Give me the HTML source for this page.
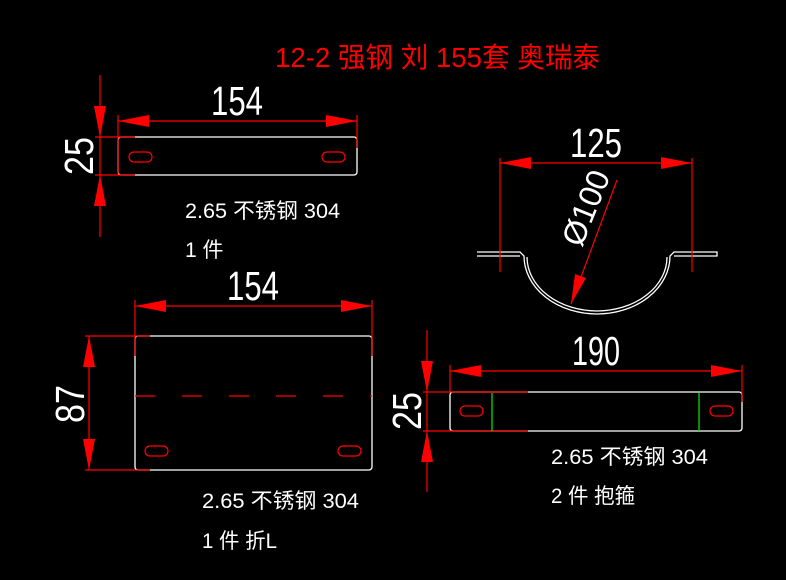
<!DOCTYPE html>
<html><head><meta charset="utf-8"><style>
html,body{margin:0;padding:0;background:#000;}
svg{display:block}
text{font-family:"Liberation Sans","Noto Sans CJK SC",sans-serif;}
</style></head><body>
<svg width="786" height="580" viewBox="0 0 786 580" xmlns="http://www.w3.org/2000/svg">
<rect width="786" height="580" fill="#000"/>
<text x="275" y="67" fill="#ff0000" font-size="28" textLength="325" lengthAdjust="spacingAndGlyphs">12-2 强钢 刘 155套 奥瑞泰</text>

<g stroke="#fff" stroke-width="1.3" fill="none">
<rect x="118" y="137" width="239" height="38" rx="3"/>
<rect x="135" y="336" width="237" height="134" rx="3"/>
<rect x="450" y="392" width="292" height="39" rx="3"/>
<path d="M477 252 H520 L524 256 A73 58 0 0 0 670 256 L674 252 H717 V256 H674"/>
<path d="M477 256 H520"/>
<path d="M527 257 A70 54 0 0 0 667 257"/>
</g>
<g stroke="#ff0000" stroke-width="1.2" fill="none">
<line x1="118" y1="121" x2="357" y2="121"/>
<line x1="118" y1="115" x2="118" y2="175"/>
<line x1="357" y1="115" x2="357" y2="148"/>
<line x1="100" y1="75" x2="100" y2="237"/>
<line x1="95" y1="137" x2="135" y2="137"/>
<line x1="95" y1="175" x2="135" y2="175"/>
<rect x="129" y="152" width="23" height="10" rx="5"/>
<rect x="322" y="152" width="23" height="10" rx="5"/>
<line x1="135" y1="306" x2="372" y2="306"/>
<line x1="135" y1="300" x2="135" y2="356"/>
<line x1="372" y1="300" x2="372" y2="356"/>
<line x1="89" y1="336" x2="89" y2="470"/>
<line x1="85" y1="336" x2="150" y2="336"/>
<line x1="85" y1="470" x2="150" y2="470"/>
<line x1="135" y1="396" x2="372" y2="396" stroke-dasharray="20,27"/>
<rect x="145" y="446" width="23" height="10" rx="5"/>
<rect x="338" y="446" width="23" height="10" rx="5"/>
<line x1="450" y1="371" x2="742" y2="371"/>
<line x1="450" y1="365" x2="450" y2="392"/>
<line x1="742" y1="365" x2="742" y2="402"/>
<line x1="427" y1="330" x2="427" y2="492"/>
<line x1="423" y1="392" x2="528" y2="392"/>
<line x1="423" y1="431" x2="528" y2="431"/>
<rect x="460" y="406" width="23" height="10" rx="5"/>
<rect x="710" y="406" width="23" height="10" rx="5"/>
<line x1="500" y1="163" x2="692" y2="163"/>
<line x1="500" y1="158" x2="500" y2="272"/>
<line x1="692" y1="158" x2="692" y2="272"/>
<line x1="617" y1="180" x2="571" y2="304"/>
</g>
<g stroke="#00dd00" stroke-width="1.3">
<line x1="492" y1="393" x2="492" y2="431"/>
<line x1="699" y1="393" x2="699" y2="431"/>
</g>
<g fill="#ff0000">
<polygon points="118,121 149,115 149,127"/><polygon points="357,121 326,115 326,127"/>
<polygon points="135,306 166,300 166,312"/><polygon points="372,306 341,300 341,312"/>
<polygon points="450,371 481,365 481,377"/><polygon points="742,371 711,365 711,377"/>
<polygon points="500,163 531,157 531,169"/><polygon points="692,163 661,157 661,169"/>
<polygon points="100,137 94,106 106,106"/><polygon points="100,175 94,206 106,206"/>
<polygon points="89,336 83,367 95,367"/><polygon points="89,470 83,439 95,439"/>
<polygon points="427,392 421,361 433,361"/><polygon points="427,431 421,462 433,462"/>
<polygon points="571,304 575,274 586,278"/>
</g>
<g fill="#fff">
<text x="237" y="115" font-size="41" text-anchor="middle" textLength="52" lengthAdjust="spacingAndGlyphs">154</text>
<text x="253" y="300" font-size="41" text-anchor="middle" textLength="52" lengthAdjust="spacingAndGlyphs">154</text>
<text x="596" y="365" font-size="41" text-anchor="middle" textLength="48" lengthAdjust="spacingAndGlyphs">190</text>
<text x="596" y="157" font-size="41" text-anchor="middle" textLength="52" lengthAdjust="spacingAndGlyphs">125</text>
<text transform="translate(93,156) rotate(-90)" font-size="41" text-anchor="middle" textLength="38" lengthAdjust="spacingAndGlyphs">25</text>
<text transform="translate(84,404) rotate(-90)" font-size="41" text-anchor="middle" textLength="38" lengthAdjust="spacingAndGlyphs">87</text>
<text transform="translate(421,411) rotate(-90)" font-size="41" text-anchor="middle" textLength="38" lengthAdjust="spacingAndGlyphs">25</text>
<text transform="translate(596,212) rotate(-68)" font-size="32" text-anchor="middle">Ø100</text>
<text x="185" y="218" font-size="21" textLength="155" lengthAdjust="spacingAndGlyphs">2.65 不锈钢 304</text>
<text x="185" y="257" font-size="21">1 件</text>
<text x="202" y="508" font-size="21" textLength="157" lengthAdjust="spacingAndGlyphs">2.65 不锈钢 304</text>
<text x="202" y="548" font-size="21" textLength="75" lengthAdjust="spacingAndGlyphs">1 件 折L</text>
<text x="551" y="464" font-size="21" textLength="157" lengthAdjust="spacingAndGlyphs">2.65 不锈钢 304</text>
<text x="551" y="503" font-size="21" textLength="84" lengthAdjust="spacingAndGlyphs">2 件 抱箍</text>
</g>
</svg>
</body></html>
